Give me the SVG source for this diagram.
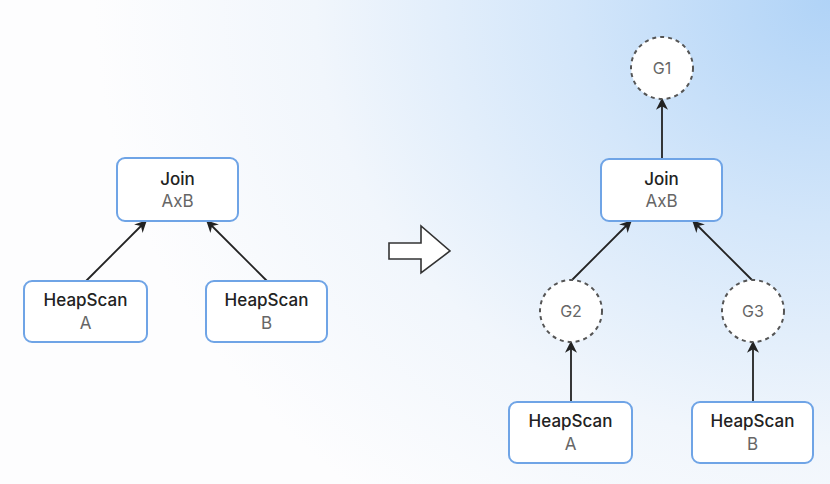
<svg xmlns="http://www.w3.org/2000/svg" width="830" height="484" viewBox="0 0 830 484">
<defs>
<radialGradient id="bg" cx="830" cy="0" r="640" gradientUnits="userSpaceOnUse" gradientTransform="translate(830 0) scale(1.15 1) translate(-830 0)">
<stop offset="0" stop-color="#b0d3f7"/>
<stop offset="0.35" stop-color="#d3e6fa"/>
<stop offset="0.7" stop-color="#f1f6fc"/>
<stop offset="1" stop-color="#fdfdfe"/>
</radialGradient>
<marker id="ah" viewBox="0 0 10 10" refX="9" refY="5" markerWidth="12" markerHeight="12" markerUnits="userSpaceOnUse" orient="auto">
<path d="M0,0 L10,5 L0,10 L3,5 Z" fill="#222"/>
</marker>
<style>
.box{fill:#fff;stroke:#6fa4e6;stroke-width:2}
.circ{fill:#fff;stroke:#555;stroke-width:2;stroke-dasharray:4 4}
.t1{font-family:Inter,"Noto Sans",sans-serif;font-size:17px;font-weight:500;fill:#222;text-anchor:middle}
.t2{font-family:Inter,"Noto Sans",sans-serif;font-size:17px;fill:#666;text-anchor:middle}
.tg{font-family:Inter,"Noto Sans",sans-serif;font-size:16px;fill:#666;text-anchor:middle}
.edge{stroke:#222;stroke-width:1.8;fill:none;marker-end:url(#ah)}
</style>
</defs>
<rect width="830" height="484" fill="url(#bg)"/>
<g id="connectors">
<line class="edge" x1="86" y1="281" x2="146" y2="221"/>
<line class="edge" x1="267" y1="281" x2="207" y2="221"/>
<line class="edge" x1="662" y1="159" x2="662" y2="99"/>
<line class="edge" x1="572" y1="280" x2="631" y2="221"/>
<line class="edge" x1="752" y1="280" x2="693" y2="221"/>
<line class="edge" x1="571" y1="402" x2="571" y2="342"/>
<line class="edge" x1="753" y1="402" x2="753" y2="342"/>
</g>
<g id="transform-arrow">
<path d="M389,243 L421,243 L421,226 L450,251 L421,273 L421,259 L389,259 Z" fill="#fff" stroke="#333" stroke-width="1.6" stroke-linejoin="miter"/>
</g>
<g id="join-left">
<rect class="box" x="117" y="158" width="121" height="63" rx="8"/>
<text class="t1" x="177.5" y="185">Join</text>
<text class="t2" x="177.5" y="207">AxB</text>
</g>
<g id="heapscan-a-left">
<rect class="box" x="24" y="281" width="123" height="61" rx="8"/>
<text class="t1" x="85.5" y="306">HeapScan</text>
<text class="t2" x="85.5" y="329">A</text>
</g>
<g id="heapscan-b-left">
<rect class="box" x="206" y="281" width="121" height="61" rx="8"/>
<text class="t1" x="266.5" y="306">HeapScan</text>
<text class="t2" x="266.5" y="329">B</text>
</g>
<g id="g1">
<circle class="circ" cx="662" cy="68" r="31"/>
<text class="tg" x="662" y="74">G1</text>
</g>
<g id="join-right">
<rect class="box" x="601" y="159" width="121" height="62" rx="8"/>
<text class="t1" x="661.5" y="185">Join</text>
<text class="t2" x="661.5" y="207">AxB</text>
</g>
<g id="g2">
<circle class="circ" cx="571" cy="311" r="31"/>
<text class="tg" x="571" y="317">G2</text>
</g>
<g id="g3">
<circle class="circ" cx="753" cy="311" r="31"/>
<text class="tg" x="753" y="317">G3</text>
</g>
<g id="heapscan-a-right">
<rect class="box" x="509" y="402" width="123" height="61" rx="8"/>
<text class="t1" x="570.5" y="427">HeapScan</text>
<text class="t2" x="570.5" y="450">A</text>
</g>
<g id="heapscan-b-right">
<rect class="box" x="692" y="402" width="121" height="61" rx="8"/>
<text class="t1" x="752.5" y="427">HeapScan</text>
<text class="t2" x="752.5" y="450">B</text>
</g>
</svg>
